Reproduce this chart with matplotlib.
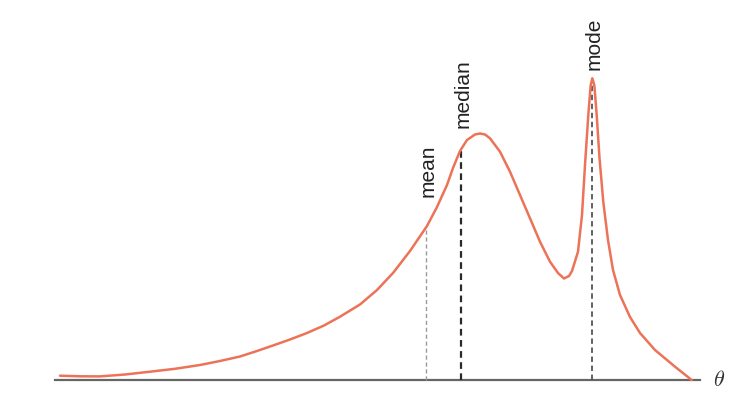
import numpy as np
import matplotlib.pyplot as plt

plt.rcParams["font.family"] = ["Liberation Sans", "DejaVu Sans"]
plt.rcParams["mathtext.fontset"] = "cm"

# density curve
theta = [0.0, 2.0, 4.0, 6.5, 9.0, 11.5, 14.0, 16.0, 18.0, 19.7, 21.3, 23.0,
         24.7, 26.4, 28.0, 30.0, 31.7, 33.3, 35.0, 36.7, 37.7, 38.7, 39.3,
         40.0, 40.7, 41.5, 42.0, 42.5, 43.0, 44.0, 45.0, 46.0, 47.0, 48.0,
         49.0, 49.8, 50.4, 50.9, 51.2, 51.8, 52.2, 52.5, 52.83, 53.07, 53.23,
         53.43, 53.67, 53.95, 54.33, 54.8, 55.3, 56.0, 57.0, 58.0, 59.5,
         61.5, 63.17]
density = [0.0043, 0.0037, 0.0036, 0.0055, 0.0083, 0.0112, 0.015, 0.019,
           0.0235, 0.029, 0.0345, 0.0405, 0.047, 0.0545, 0.0633, 0.0755,
           0.090, 0.107, 0.129, 0.154, 0.173, 0.195, 0.212, 0.229, 0.240,
           0.2455, 0.2465, 0.2455, 0.2417, 0.2283, 0.2083, 0.185, 0.1617,
           0.1383, 0.1183, 0.107, 0.1015, 0.104, 0.109, 0.1283, 0.165,
           0.215, 0.265, 0.295, 0.3017, 0.295, 0.265, 0.222, 0.178, 0.140,
           0.110, 0.085, 0.063, 0.047, 0.030, 0.0133, 0.0]

stat_names = ["mean", "median", "mode"]
stat_theta = [36.6, 40.07, 53.17]
label_y = [0.183, 0.252, 0.310]
line_colors = ["#9a9a9a", "#2a2a2a", "#555555"]
line_widths = [1.0, 1.6, 1.3]

fig = plt.figure(figsize=(7.41, 4.04), dpi=100)
ax = fig.add_axes([0, 0, 1, 1])

ax.plot(theta, density, color="#ec7357", lw=1.8, zorder=3,
        solid_joinstyle="round", solid_capstyle="round")

for name, t, ly, c, w in zip(stat_names, stat_theta, label_y, line_colors, line_widths):
    top = np.interp(t, theta, density)
    ax.vlines(t, 0, top, colors=c, linestyles=(0, (3, 2)), lw=w, zorder=2)
    ax.text(t + 0.2, ly, name, rotation=90, ha="center", va="bottom",
            fontsize=15, color="#222222")

ax.set_xlim(-6, 68.1)
ax.set_ylim(-0.024, 0.380)
for s in ["top", "right", "left"]:
    ax.spines[s].set_visible(False)
ax.spines["bottom"].set_position(("data", 0))
ax.spines["bottom"].set_bounds(-0.5, 64.0)
ax.spines["bottom"].set_color("#666666")
ax.spines["bottom"].set_linewidth(1.6)
ax.spines["bottom"].set_zorder(1)
ax.set_xticks([])
ax.set_yticks([])
ax.patch.set_alpha(0)

ax.text(65.3, 0.0, r"$\theta$", fontsize=16, va="center", ha="left", color="#333333")

fig.savefig("out.png", dpi=100)
